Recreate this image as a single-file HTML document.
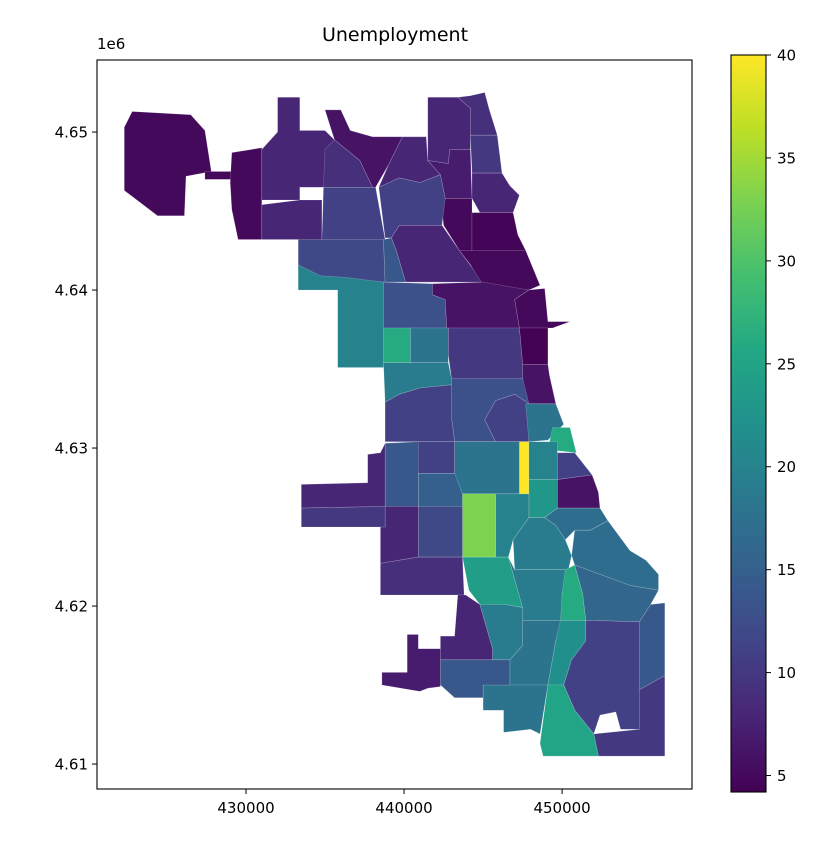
<!DOCTYPE html>
<html><head><meta charset="utf-8"><style>
body{margin:0;background:#fff;}
svg{display:block;font-family:"DejaVu Sans","Liberation Sans",sans-serif;}
</style></head><body>
<svg id="chart" width="838" height="854" viewBox="0 0 838 854"></svg>
<script>
// ---- data ----
const regionNames=["ohare","ohare-strip","ohare-east","edison-park","dunning-north","edgebrook","norwood","forest-glen","west-ridge","rogers-park","edgewater-north","lincoln-square","uptown","north-center","lakeview","irving-park","portage-park","avondale-logan","lincoln-park","belmont-cragin","hermosa","austin","humboldt-park","west-town","near-north","loop","west-garfield","east-garfield","near-west","south-loop","north-lawndale","lower-west","bridgeport","douglas","oakland","south-lawndale","fuller-park","new-city","mckinley-park","brighton-park","archer-heights","grand-boulevard","washington-park","kenwood","hyde-park","west-englewood","englewood","woodlawn","south-shore","grand-crossing","chicago-lawn","west-lawn","garfield-ridge-n","garfield-ridge-s","west-elsdon","gage-park","auburn","chatham","south-chicago","ashburn","washington-heights","roseland","avalon-park","pullman","east-side","hegewisch","riverdale","morgan-park","beverly","mount-greenwood"];
const unemployment=[5,5,5,8,8,6,9,8,8,9,10,7,8,5,4.5,11,11,8,5,12,14,20,13,6,5,4.3,26,18,10,6,19,13,11,18,26,11,40,18,11,15,14,20,23,11,6,33,20,17,17,19,12,8,8,10,9,24,19,26,16,8,19,18,22,11,14,10,25,18,14,7];
// polygon vertices in km (easting, northing)
const geometry=[
[[422.3,4650.3],[422.8,4651.3],[426.5,4651.1],[427.4,4650.1],[427.8,4647.5],[426.2,4647.2],[426.1,4644.7],[424.4,4644.7],[422.3,4646.3]],
[[427.4,4647.5],[429.6,4647.5],[429.6,4647.0],[427.4,4647.0]],
[[429.1,4648.7],[431.0,4649.0],[431.0,4643.2],[429.5,4643.2],[429.1,4645.1],[429.0,4646.8]],
[[431.0,4648.9],[432.0,4650.0],[432.0,4652.2],[433.4,4652.2],[433.4,4650.1],[435.0,4650.1],[435.6,4649.5],[435.0,4646.5],[433.4,4646.5],[433.4,4645.7],[431.0,4645.7]],
[[431.0,4645.4],[433.4,4645.7],[434.8,4645.7],[434.8,4643.2],[431.0,4643.2]],
[[435.0,4651.4],[436.0,4651.4],[436.6,4650.1],[438.0,4649.7],[439.9,4649.7],[439.0,4647.9],[438.2,4646.5],[438.0,4646.5],[437.2,4648.2],[435.6,4649.5]],
[[435.6,4649.5],[437.2,4648.2],[438.0,4646.5],[434.9,4646.5],[435.0,4648.9]],
[[439.9,4649.7],[441.4,4649.7],[441.5,4648.2],[442.3,4647.3],[441.0,4646.8],[439.7,4647.1],[438.4,4646.5],[439.0,4647.9]],
[[441.5,4652.2],[443.4,4652.2],[444.2,4651.5],[444.2,4648.9],[442.9,4648.9],[442.8,4648.0],[441.5,4648.2]],
[[443.4,4652.2],[444.2,4652.3],[445.1,4652.5],[445.4,4651.4],[445.9,4649.8],[444.2,4649.8],[444.2,4651.5]],
[[444.2,4649.8],[445.9,4649.8],[446.2,4647.4],[444.3,4647.4]],
[[441.5,4648.2],[442.8,4648.0],[442.9,4648.9],[444.2,4648.9],[444.3,4645.8],[442.6,4645.8],[442.3,4647.3]],
[[444.3,4647.4],[446.2,4647.4],[446.7,4646.6],[447.3,4646.0],[446.9,4644.9],[444.8,4644.9],[444.3,4645.8]],
[[442.6,4645.8],[444.3,4645.8],[444.3,4642.5],[443.5,4642.5],[442.5,4644.1],[442.4,4645.1]],
[[444.3,4644.9],[446.9,4644.9],[447.2,4643.5],[447.7,4642.5],[444.3,4642.5]],
[[438.4,4646.5],[439.7,4647.1],[441.0,4646.8],[442.3,4647.3],[442.6,4645.8],[442.4,4644.1],[439.7,4644.1],[439.2,4643.3],[438.8,4643.3]],
[[434.9,4646.5],[438.2,4646.5],[438.8,4643.2],[434.8,4643.2]],
[[439.7,4644.1],[442.4,4644.1],[443.5,4642.5],[445.0,4640.5],[440.1,4640.5],[439.5,4642.5],[439.2,4643.3]],
[[443.5,4642.5],[447.7,4642.5],[448.6,4640.3],[447.9,4640.0],[445.0,4640.3],[444.2,4641.6]],
[[433.3,4643.2],[438.7,4643.2],[438.8,4640.5],[436.3,4640.6],[434.6,4640.8],[433.3,4641.3]],
[[438.7,4643.2],[439.2,4643.3],[439.5,4642.5],[440.1,4640.5],[438.8,4640.5]],
[[433.3,4641.6],[434.7,4640.9],[436.3,4640.8],[438.7,4640.5],[438.7,4635.1],[435.8,4635.1],[435.8,4640.0],[433.3,4640.0]],
[[438.7,4640.5],[441.8,4640.4],[441.8,4639.7],[442.6,4639.4],[442.7,4637.6],[438.7,4637.6]],
[[441.8,4640.4],[445.0,4640.5],[447.9,4640.0],[447.0,4639.4],[447.3,4637.6],[442.7,4637.6],[442.6,4639.4],[441.8,4639.7]],
[[447.9,4640.0],[448.9,4640.1],[449.1,4638.0],[450.5,4638.0],[449.4,4637.6],[447.3,4637.6],[447.0,4639.4]],
[[447.3,4637.6],[449.1,4637.6],[449.1,4635.3],[447.5,4635.3]],
[[438.7,4637.6],[440.4,4637.6],[440.4,4635.4],[438.7,4635.4]],
[[440.4,4637.6],[442.8,4637.6],[442.8,4635.4],[440.4,4635.4]],
[[442.8,4637.6],[447.3,4637.6],[447.5,4635.3],[447.5,4634.4],[443.0,4634.4],[442.8,4635.9]],
[[447.5,4635.3],[449.1,4635.3],[449.2,4634.6],[449.6,4632.8],[447.7,4632.8],[447.5,4634.4]],
[[438.7,4635.4],[442.8,4635.4],[443.0,4634.4],[443.0,4634.0],[441.0,4633.8],[439.7,4633.4],[438.8,4632.9]],
[[443.0,4634.4],[447.5,4634.4],[447.9,4632.8],[447.0,4633.4],[445.8,4633.0],[445.1,4631.8],[445.8,4630.4],[443.2,4630.4],[443.0,4631.9],[443.0,4634.0]],
[[445.1,4631.8],[445.8,4633.0],[447.0,4633.4],[447.9,4632.8],[447.9,4630.4],[445.8,4630.4]],
[[447.7,4632.8],[449.6,4632.8],[450.1,4631.5],[449.1,4630.5],[447.9,4630.4]],
[[449.4,4631.3],[450.5,4631.3],[450.9,4629.7],[449.1,4629.9]],
[[438.8,4632.9],[439.7,4633.4],[441.0,4633.8],[443.0,4634.0],[443.0,4631.9],[443.2,4630.4],[438.8,4630.4]],
[[447.3,4630.4],[447.9,4630.4],[447.9,4627.1],[447.3,4627.1]],
[[443.2,4630.4],[447.3,4630.4],[447.3,4627.1],[443.7,4627.1],[443.2,4628.3]],
[[440.8,4630.4],[443.2,4630.4],[443.2,4628.4],[440.8,4628.4]],
[[440.9,4628.4],[443.2,4628.4],[443.7,4627.1],[443.7,4626.3],[440.9,4626.3]],
[[438.8,4630.3],[440.9,4630.4],[440.9,4626.3],[438.8,4626.3]],
[[447.9,4630.4],[449.7,4630.4],[449.7,4628.0],[447.9,4628.0]],
[[447.9,4628.0],[449.7,4628.0],[449.7,4626.2],[448.9,4625.6],[447.9,4625.6]],
[[449.7,4629.7],[450.8,4629.7],[451.9,4628.3],[449.7,4628.0]],
[[449.7,4628.0],[451.9,4628.3],[452.3,4627.2],[452.4,4626.2],[449.7,4626.2]],
[[443.7,4627.1],[445.8,4627.1],[445.8,4623.1],[443.7,4623.1]],
[[445.8,4627.1],[447.9,4627.1],[447.9,4625.6],[446.9,4624.2],[446.6,4623.1],[445.8,4623.1]],
[[448.9,4625.6],[449.7,4626.2],[452.4,4626.2],[452.9,4625.4],[451.8,4624.8],[450.8,4624.8],[450.2,4624.2],[449.6,4625.1]],
[[450.8,4624.8],[451.8,4624.8],[452.9,4625.4],[454.3,4623.5],[455.3,4622.9],[456.1,4622.0],[456.1,4621.0],[454.3,4621.3],[450.8,4622.6],[450.6,4623.2]],
[[447.9,4625.6],[448.9,4625.6],[449.6,4625.1],[450.2,4624.2],[450.6,4623.2],[450.4,4622.3],[447.0,4622.3],[446.9,4624.2]],
[[440.9,4626.3],[443.7,4626.3],[443.7,4623.1],[440.9,4623.1]],
[[438.8,4626.3],[440.9,4626.3],[440.9,4623.1],[438.5,4622.7],[438.5,4625.0],[438.8,4625.0]],
[[433.5,4627.7],[437.7,4627.8],[437.7,4629.6],[438.5,4629.7],[438.8,4630.3],[438.8,4626.3],[433.5,4626.2]],
[[433.5,4626.2],[438.8,4626.3],[438.8,4625.0],[433.5,4625.0]],
[[438.5,4622.7],[440.9,4623.1],[443.7,4623.1],[443.8,4620.7],[438.5,4620.7]],
[[443.7,4623.1],[446.6,4623.1],[447.5,4619.9],[446.4,4620.1],[444.8,4620.1],[444.1,4621.0]],
[[447.0,4622.3],[450.4,4622.3],[450.0,4620.8],[450.0,4619.1],[447.5,4619.1],[447.5,4619.9],[446.6,4623.1]],
[[450.2,4622.3],[450.8,4622.6],[451.3,4620.8],[451.5,4619.1],[449.9,4619.1],[450.0,4620.8]],
[[450.8,4622.6],[454.3,4621.3],[456.1,4621.0],[455.6,4620.1],[454.9,4619.0],[451.5,4619.1],[451.3,4620.8]],
[[443.4,4620.7],[443.9,4620.7],[444.8,4620.1],[445.6,4617.3],[445.6,4616.6],[442.3,4616.6],[442.3,4618.1],[443.2,4618.1]],
[[444.8,4620.1],[446.4,4620.1],[447.5,4619.9],[447.5,4617.5],[446.7,4616.6],[445.6,4616.6],[445.6,4617.3]],
[[447.5,4619.1],[450.0,4619.1],[449.6,4617.8],[449.1,4615.0],[446.7,4615.0],[446.7,4616.6],[447.5,4617.5]],
[[449.9,4619.1],[451.5,4619.1],[451.5,4617.8],[450.6,4616.6],[450.1,4615.0],[449.1,4615.0],[449.6,4617.8]],
[[451.5,4619.1],[454.9,4619.0],[454.9,4612.2],[453.7,4612.2],[453.4,4613.3],[452.4,4613.1],[452.0,4611.9],[450.8,4613.4],[450.1,4615.0],[450.6,4616.6],[451.5,4617.8]],
[[455.6,4620.1],[456.5,4620.2],[456.5,4615.6],[454.9,4614.7],[454.9,4617.8],[454.9,4619.0]],
[[452.0,4611.9],[454.9,4612.2],[454.9,4614.7],[456.5,4615.6],[456.5,4610.5],[452.3,4610.5]],
[[449.1,4615.0],[450.1,4615.0],[450.8,4613.4],[452.0,4611.9],[452.3,4610.5],[448.8,4610.5],[448.6,4611.3]],
[[445.0,4615.0],[449.1,4615.0],[448.6,4611.9],[448.0,4612.2],[446.3,4612.0],[446.3,4613.4],[445.0,4613.4]],
[[442.3,4616.6],[446.7,4616.6],[446.7,4615.0],[445.0,4615.0],[445.0,4614.2],[443.2,4614.2],[442.3,4615.0]],
[[440.2,4618.2],[440.9,4618.2],[440.9,4617.3],[442.3,4617.3],[442.3,4614.9],[441.5,4614.8],[441.0,4614.6],[438.6,4615.0],[438.6,4615.8],[440.2,4615.8]]
];
const xTicks=[430000,440000,450000];
const xTickLabels=["430000","440000","450000"];
const yTicks=[4610000,4620000,4630000,4640000,4650000];
const yTickLabels=["4.61","4.62","4.63","4.64","4.65"];
const cbTicks=[5,10,15,20,25,30,35,40];
const cbTickLabels=["5","10","15","20","25","30","35","40"];
const vmin=4.2, vmax=40;

// ---- layout ----
const NS="http://www.w3.org/2000/svg";
const svg=document.getElementById('chart');
const ax={l:97,r:692,t:60,b:789};
const xDom=[420570,458220], yDom=[4608420,4654560];
const sx=v=>ax.l+(v-xDom[0])/(xDom[1]-xDom[0])*(ax.r-ax.l);
const sy=v=>ax.b-(v-yDom[0])/(yDom[1]-yDom[0])*(ax.b-ax.t);
const cb={l:731,r:766,t:55,b:792};
const cy=v=>cb.b-(v-vmin)/(vmax-vmin)*(cb.b-cb.t);
const VIR=[[68,1,84],[72,36,117],[65,68,135],[53,95,141],[42,120,142],[33,145,140],[34,168,132],[68,191,112],[122,209,81],[189,223,38],[253,231,37]];
function viridis(t){t=Math.max(0,Math.min(1,t));const f=t*(VIR.length-1),i=Math.min(VIR.length-2,Math.floor(f)),u=f-i;
 const c=VIR[i].map((a,k)=>Math.round(a+(VIR[i+1][k]-a)*u));return `rgb(${c[0]},${c[1]},${c[2]})`;}
function mk(tag,attrs,parent){const e=document.createElementNS(NS,tag);for(const k in attrs)e.setAttribute(k,attrs[k]);(parent||svg).appendChild(e);return e;}

// title
const title=mk('text',{x:395,y:41,'text-anchor':'middle','font-size':19,fill:'#000'});
title.textContent='Unemployment';



// regions
const g=mk('g',{});


geometry.forEach((poly,i)=>{
  const pts=poly.map(p=>sx(p[0]*1000).toFixed(1)+','+sy(p[1]*1000).toFixed(1)).join(' ');
  const p=mk('polygon',{points:pts,fill:viridis((unemployment[i]-vmin)/(vmax-vmin)),stroke:'rgba(255,255,255,0.25)','stroke-width':0.6,'stroke-linejoin':'round'},g);
  
  
});

// axes frame
const frame=mk('rect',{x:ax.l,y:ax.t,width:ax.r-ax.l,height:ax.b-ax.t,fill:'none',stroke:'#000','stroke-width':1.1});


xTicks.forEach((v,i)=>{
  const x=sx(v);
  mk('line',{x1:x,x2:x,y1:ax.b,y2:ax.b+5,stroke:'#000','stroke-width':1});
  const t=mk('text',{x:x,y:ax.b+24,'text-anchor':'middle','font-size':15});
  t.textContent=xTickLabels[i];
  
  
});
yTicks.forEach((v,i)=>{
  const y=sy(v);
  mk('line',{x1:ax.l-5,x2:ax.l,y1:y,y2:y,stroke:'#000','stroke-width':1});
  const t=mk('text',{x:ax.l-9,y:y+5.5,'text-anchor':'end','font-size':15});
  t.textContent=yTickLabels[i];
  
  
});
const off=mk('text',{x:97,y:49,'font-size':15});
off.textContent='1e6';



// colorbar
const defs=mk('defs',{});
const lg=mk('linearGradient',{id:'vg',x1:0,y1:1,x2:0,y2:0},defs);
for(let k=0;k<=20;k++){mk('stop',{offset:k/20,'stop-color':viridis(k/20)},lg);}
const cbr=mk('rect',{x:cb.l,y:cb.t,width:cb.r-cb.l,height:cb.b-cb.t,fill:'url(#vg)',stroke:'#000','stroke-width':1.1});


cbTicks.forEach((v,i)=>{
  const y=cy(v);
  mk('line',{x1:cb.r,x2:cb.r+5,y1:y,y2:y,stroke:'#000','stroke-width':1});
  const t=mk('text',{x:cb.r+11,y:y+5.5,'font-size':15});
  t.textContent=cbTickLabels[i];
  
  
});
</script>
</body></html>
